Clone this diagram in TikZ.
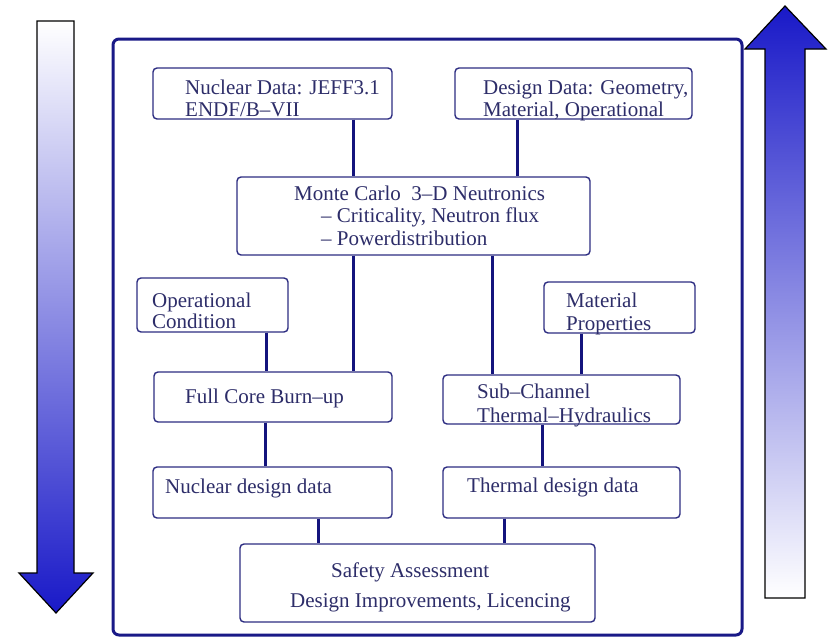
\documentclass[tikz,border=0pt]{standalone}
\usepackage{fontspec}
\setmainfont{Liberation Serif}
\usetikzlibrary{calc}
\definecolor{framenavy}{RGB}{25,25,135}
\definecolor{boxnavy}{RGB}{45,45,130}
\definecolor{linknavy}{RGB}{20,20,125}
\definecolor{textnavy}{RGB}{45,45,105}
\definecolor{arrowblue}{RGB}{25,25,200}
\definecolor{arrowmid}{RGB}{170,170,225}

\begin{document}
\begin{tikzpicture}[x=1pt,y=-1pt,
    box/.style={draw=boxnavy,line width=1.4pt,rounded corners=4pt,fill=white,inner sep=0pt},
    txt/.style={text=textnavy,font=\fontsize{21}{22}\selectfont,align=left,inner sep=0pt,anchor=base west},
    link/.style={draw=linknavy,line width=3pt}]
      \useasboundingbox (0,0) rectangle (831,637);
      % side arrows
      \shadedraw[top color=white,middle color=arrowmid,bottom color=arrowblue,line width=1.2pt]
        (37,21)--(74,21)--(74,573)--(93,573)--(56,613)--(19,573)--(37,573)--cycle;
      \shadedraw[top color=arrowblue,middle color=arrowmid,bottom color=white,line width=1.2pt]
        (765,598)--(805,598)--(805,49)--(826,49)--(785,6)--(745,49)--(765,49)--cycle;
      % frame
      \draw[draw=framenavy,line width=3pt,rounded corners=6pt,fill=white] (113,39) rectangle (742,635);
      % boxes
      \node[box,minimum width=239pt,minimum height=51pt] (nucdata) at (272.5,93.5) {};
      \node[box,minimum width=237pt,minimum height=51pt] (desdata) at (573.5,93.5) {};
      \node[box,minimum width=353pt,minimum height=78pt] (monte) at (413.5,216) {};
      \node[box,minimum width=151pt,minimum height=54pt] (opcond) at (212.5,305) {};
      \node[box,minimum width=151pt,minimum height=51pt] (matprop) at (619.5,307.5) {};
      \node[box,minimum width=238pt,minimum height=50pt] (fullcore) at (273,397) {};
      \node[box,minimum width=237pt,minimum height=49pt] (subch) at (561.5,399.5) {};
      \node[box,minimum width=239pt,minimum height=51pt] (nucdes) at (272.5,492.5) {};
      \node[box,minimum width=237pt,minimum height=51pt] (thermdes) at (561.5,492.5) {};
      \node[box,minimum width=355pt,minimum height=78pt] (safety) at (417.5,583) {};
      % texts (base = last line)
      \node[txt] (nucdatatxt) at (185,116) {Nuclear Data: JEFF3.1\\ENDF/B--VII};
      \node[txt] (desdatatxt) at (483,116) {Design Data: Geometry,\\Material, Operational};
      \node[txt,font=\fontsize{21}{22.5}\selectfont] (montetxt) at (294,245)
        {Monte Carlo\ \ 3--D Neutronics\\\hspace*{27pt}-- Criticality, Neutron flux\\\hspace*{27pt}-- Powerdistribution};
      \node[txt,font=\fontsize{21}{21}\selectfont] (opcondtxt) at (152,328) {Operational\\Condition};
      \node[txt,font=\fontsize{21}{23}\selectfont] (matproptxt) at (566,330) {Material\\Properties};
      \node[txt] (fullcoretxt) at (185,403) {Full Core Burn--up};
      \node[txt,font=\fontsize{21}{24}\selectfont] (subchtxt) at (477,422) {Sub--Channel\\Thermal--Hydraulics};
      \node[txt] (nucdestxt) at (165,493) {Nuclear design data};
      \node[txt] (thermdestxt) at (467,492) {Thermal design data};
      \node[txt,font=\fontsize{21}{30}\selectfont] (safetytxt) at (290,607)
        {\hspace*{41pt}Safety Assessment\\Design Improvements, Licencing};
      % links
      \draw[link] ($(nucdata.south west)!.837!(nucdata.south east)$) coordinate (l1) -- (l1 |- monte.north);
      \draw[link] ($(desdata.south west)!.266!(desdata.south east)$) coordinate (l2) -- (l2 |- monte.north);
      \draw[link] ($(monte.south west)!.331!(monte.south east)$) coordinate (l3) -- (l3 |- fullcore.north);
      \draw[link] ($(monte.south west)!.722!(monte.south east)$) coordinate (l4) -- (l4 |- subch.north);
      \draw[link] ($(opcond.south west)!.854!(opcond.south east)$) coordinate (l5) -- (l5 |- fullcore.north);
      \draw[link] ($(matprop.south west)!.252!(matprop.south east)$) coordinate (l6) -- (l6 |- subch.north);
      \draw[link] ($(fullcore.south west)!.47!(fullcore.south east)$) coordinate (l7) -- (l7 |- nucdes.north);
      \draw[link] ($(subch.south west)!.422!(subch.south east)$) coordinate (l8) -- (l8 |- thermdes.north);
      \draw[link] ($(nucdes.south west)!.69!(nucdes.south east)$) coordinate (l9) -- (l9 |- safety.north);
      \draw[link] ($(thermdes.south west)!.262!(thermdes.south east)$) coordinate (l10) -- (l10 |- safety.north);
\end{tikzpicture}
\end{document}
